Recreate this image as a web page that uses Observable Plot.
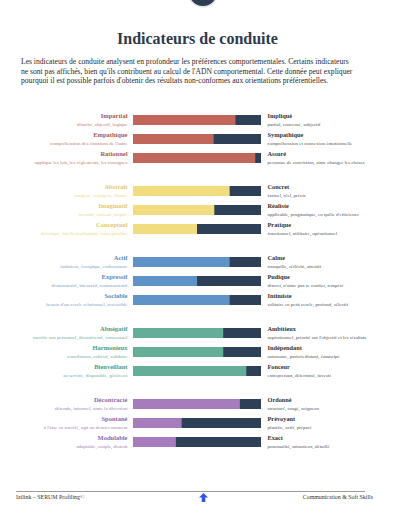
<!DOCTYPE html>
<html>
<head>
<meta charset="utf-8">
<script src="https://cdn.jsdelivr.net/npm/d3@7"></script>
<script src="https://cdn.jsdelivr.net/npm/@observablehq/plot@0.6"></script>
<style>
  html, body { margin: 0; padding: 0; background: #fff; }
  body { width: 395px; height: 521px; position: relative; overflow: hidden; font-family: "Liberation Serif", "Times New Roman", Times, "DejaVu Serif", serif; }
  #badge { position: absolute; left: 189px; top: -22px; width: 28px; height: 28px; border-radius: 50%; background: #2e3d52; box-shadow: 0 0 0 1.5px #dfe3ea; }
  #title { position: absolute; left: 0; width: 395px; top: 30px; text-align: center; font-size: 16px; font-weight: bold; color: #2f3a4b; }
  #intro { position: absolute; left: 21px; top: 57px; width: 360px; font-size: 7.6px; line-height: 9.7px; color: #2a2a2a; white-space: nowrap; }
  #chart { position: absolute; left: 0; top: 100px; }
  #rule { position: absolute; left: 16px; top: 491px; width: 349px; height: 0; border-top: 1.5px solid #9a9a9a; }
  .foot { position: absolute; top: 494px; font-size: 5.9px; color: #333; }
  #arrow { position: absolute; left: 199px; top: 493px; width: 9px; height: 9px; background: #2f55e8; clip-path: polygon(50% 0, 100% 50%, 70% 50%, 70% 100%, 30% 100%, 30% 50%, 0 50%); }
</style>
</head>
<body>
<div id="badge"></div>
<div id="title">Indicateurs de conduite</div>
<div id="intro">Les indicateurs de conduite analysent en profondeur les préférences comportementales. Certains indicateurs<br>ne sont pas affichés, bien qu'ils contribuent au calcul de l'ADN comportemental. Cette donnée peut expliquer<br>pourquoi il est possible parfois d'obtenir des résultats non-conformes aux orientations préférentielles.</div>
<div id="chart"></div>
<div id="rule"></div>
<div class="foot" style="left:16px;">Izilink – SERUM Profiling©</div>
<div id="arrow"></div>
<div class="foot" style="right:22px;">Communication &amp; Soft Skills</div>
<script>
const leftNames = ["Impartial", "Empathique", "Rationnel", "Abstrait", "Imaginatif", "Conceptuel", "Actif", "Expressif", "Sociable", "Abnégatif", "Harmonieux", "Bienveillant", "Décontracté", "Spontané", "Modulable"];
const leftDescs = [
  "détaché, objectif, logique",
  "compréhension des émotions de l'autre",
  "applique les lois, les règlements, les consignes",
  "songeur, voyageur, illustré",
  "inventif, curieux, inspiré",
  "théorique, intellectualisation, conceptualise",
  "initiateur, énergique, enthousiaste",
  "démonstratif, interactif, communicatif",
  "besoin d'un cercle relationnel, accessible",
  "sacrifie son personnel, désintéressé, consensuel",
  "conciliation, cohésif, solidaire",
  "au service, disponible, généreux",
  "détendu, informel, aime la diversion",
  "à l'aise en société, agit au dernier moment",
  "adaptable, souple, distrait"
];
const rightNames = ["Impliqué", "Sympathique", "Assuré", "Concret", "Réaliste", "Pratique", "Calme", "Pudique", "Intimiste", "Ambitieux", "Indépendant", "Fonceur", "Ordonné", "Prévoyant", "Exact"];
const rightDescs = [
  "partial, concerné, subjectif",
  "compréhension et connexion émotionnelle",
  "personne de conviction, aime changer les choses",
  "factuel, réel, précis",
  "applicable, pragmatique, en quête d'efficience",
  "fonctionnel, utilitaire, opérationnel",
  "tranquille, réfléchi, attentif",
  "discret, n'aime pas se confier, tempéré",
  "solitaire en petit cercle, profond, sélectif",
  "aspirationnel, priorité sur l'objectif et les résultats",
  "autonome, parfois distant, émancipé",
  "entreprenant, déterminé, investi",
  "structuré, rangé, soigneux",
  "planifie, actif, préparé",
  "ponctualité, minutieux, détaillé"
];
const values = [80, 63, 95.5, 75.5, 63.5, 50, 75.5, 50, 75.5, 70.5, 70.5, 88.5, 83.5, 38, 33.5];
const groups = ["G1", "G2", "G3", "G4", "G5"];
const barColors = ["#c0665a", "#f1dc80", "#5f93c8", "#64ae98", "#a67cbd"];
const nameColors = ["#a9584e", "#e3c966", "#5a8cc2", "#4f9c85", "#8f68a8"];
const descColors = ["#c27a70", "#ebd68a", "#7ba3cf", "#6eab97", "#a283b6"];
const darkColor = "#2e4058";

const rows = leftNames.map((name, i) => ({
  name, desc: leftDescs[i], rname: rightNames[i], rdesc: rightDescs[i],
  value: values[i], group: groups[Math.floor(i / 3)], rank: i % 3
}));

const font = "'Liberation Serif', 'Times New Roman', Times, 'DejaVu Serif', serif";
const chart = Plot.plot({
  width: 395,
  height: 360,
  marginTop: 9,
  marginBottom: 8,
  marginLeft: 133,
  marginRight: 134,
  x: {domain: [0, 100], axis: null},
  y: {type: "band", domain: [0, 1, 2], paddingInner: 0.5, paddingOuter: 0.25, axis: null},
  fy: {domain: groups, paddingInner: 0.17, paddingOuter: 0, axis: null},
  color: {domain: groups, range: barColors},
  style: {fontFamily: font, background: "transparent"},
  marks: [
    Plot.barX(rows, {fy: "group", y: "rank", x1: d => 0, x2: d => 100, fill: darkColor}),
    Plot.barX(rows, {fy: "group", y: "rank", x1: d => 0, x2: "value", fill: "group"}),
    Plot.text(rows, {fy: "group", y: "rank", text: "name", frameAnchor: "left", textAnchor: "end", dx: -6, dy: -5, fontSize: 6.5, fontWeight: "bold", fontFamily: font, fill: d => nameColors[groups.indexOf(d.group)]}),
    Plot.text(rows, {fy: "group", y: "rank", text: "desc", frameAnchor: "left", textAnchor: "end", dx: -6, dy: 3.8, fontSize: 5, fontFamily: font, fill: d => descColors[groups.indexOf(d.group)]}),
    Plot.text(rows, {fy: "group", y: "rank", text: "rname", frameAnchor: "right", textAnchor: "start", dx: 6, dy: -4.8, fontSize: 6.3, fontWeight: "bold", fontFamily: font, fill: "#333"}),
    Plot.text(rows, {fy: "group", y: "rank", text: "rdesc", frameAnchor: "right", textAnchor: "start", dx: 6, dy: 3.6, fontSize: 5, fontFamily: font, fill: "#555"})
  ]
});
document.getElementById("chart").appendChild(chart);
</script>
</body>
</html>
